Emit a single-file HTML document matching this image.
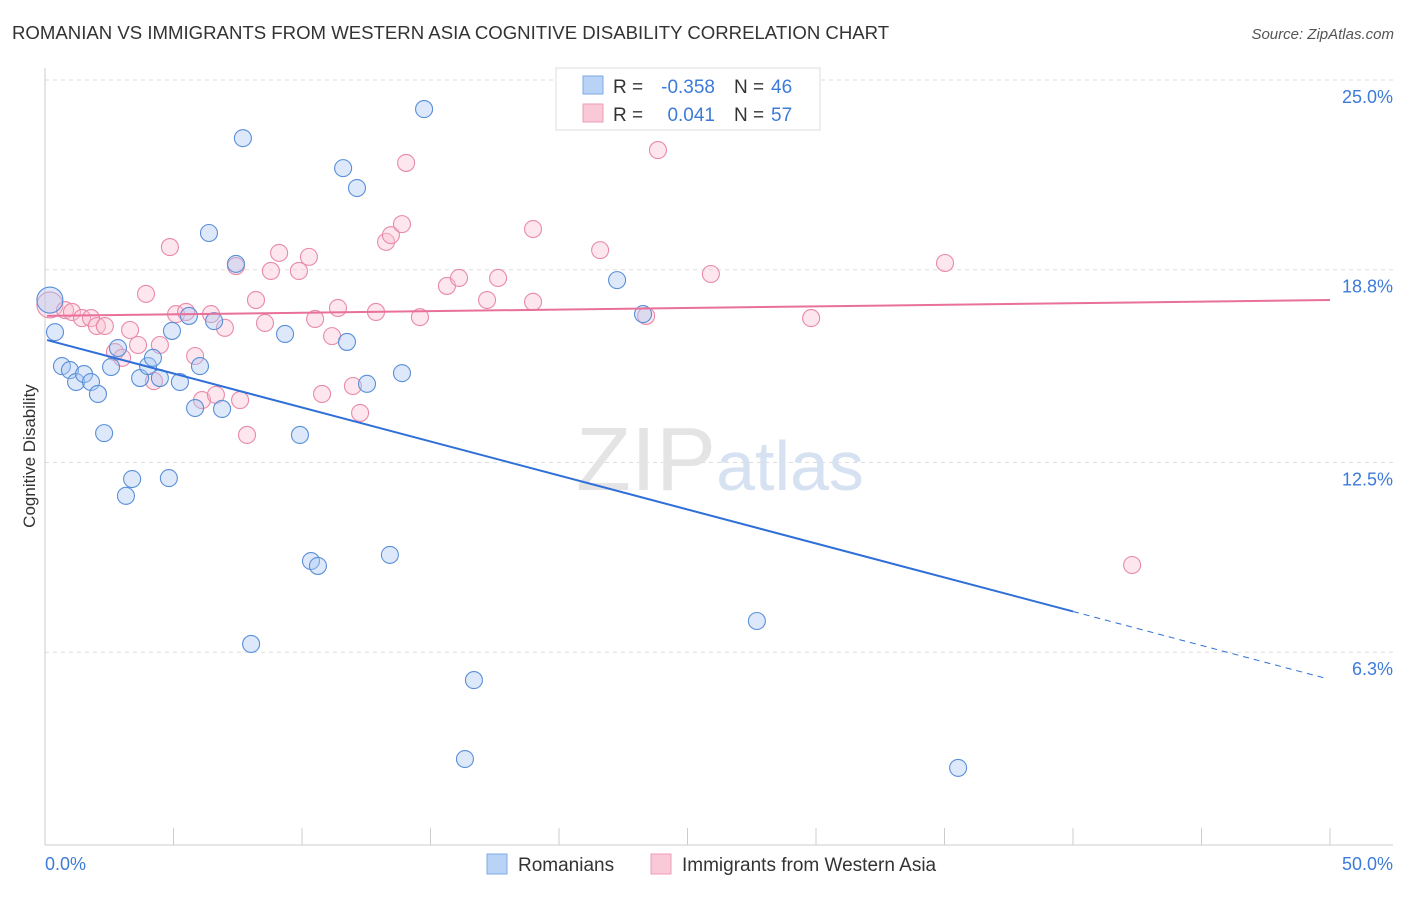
<!DOCTYPE html>
<html><head><meta charset="utf-8"><style>
body{margin:0;background:#fff;font-family:"Liberation Sans",sans-serif;}
svg text{font-family:"Liberation Sans",sans-serif;}
</style></head><body>
<svg width="1406" height="892">
<text x="12" y="39" font-size="18.6" fill="#333">ROMANIAN VS IMMIGRANTS FROM WESTERN ASIA COGNITIVE DISABILITY CORRELATION CHART</text>
<text x="1394" y="39" font-size="15" fill="#555" font-style="italic" text-anchor="end">Source: ZipAtlas.com</text>
<g id="grid"></g>
<text x="720" y="490" font-size="90" fill="#e4e4e4" text-anchor="middle" font-family="Liberation Serif">ZIP<tspan fill="#d6e2f2" font-family="Liberation Sans" font-size="70">atlas</tspan></text>
<g id="marks"></g>
<text x="35" y="456" font-size="17" fill="#333" text-anchor="middle" transform="rotate(-90 35 456)">Cognitive Disability</text>
<text x="45" y="870" font-size="18" fill="#3d7bd9">0.0%</text>
<text x="1393" y="870" font-size="18" fill="#3d7bd9" text-anchor="end">50.0%</text>
<g>
<rect x="556" y="68" width="264" height="62" fill="#fff" stroke="#ddd"/>
<rect x="583" y="76" width="20" height="18" fill="#b8d3f5" stroke="#7eaae6"/>
<rect x="583" y="104" width="20" height="18" fill="#f9c9d7" stroke="#ee9cb5"/>
<text x="613" y="93" font-size="19" fill="#333">R =</text>
<text x="715" y="93" font-size="19" fill="#3d7bd9" text-anchor="end">-0.358</text>
<text x="734" y="93" font-size="19" fill="#333">N =</text>
<text x="771" y="93" font-size="19" fill="#3d7bd9">46</text>
<text x="613" y="121" font-size="19" fill="#333">R =</text>
<text x="715" y="121" font-size="19" fill="#3d7bd9" text-anchor="end">0.041</text>
<text x="734" y="121" font-size="19" fill="#333">N =</text>
<text x="771" y="121" font-size="19" fill="#3d7bd9">57</text>
</g>
<g>
<rect x="487" y="854" width="20" height="20" fill="#b8d3f5" stroke="#7eaae6"/>
<text x="518" y="871" font-size="19" fill="#333">Romanians</text>
<rect x="651" y="854" width="20" height="20" fill="#f9c9d7" stroke="#ee9cb5"/>
<text x="682" y="871" font-size="19" fill="#333">Immigrants from Western Asia</text>
</g>
</svg>
<script>
const yTicks=[25.0,18.8,12.5,6.3];
const yTickLabels=["25.0%","18.8%","12.5%","6.3%"];
const xTicks=[0,5,10,15,20,25,30,35,40,45,50];
const romX=[0.19,0.39,0.66,0.97,1.21,1.52,1.79,2.06,2.30,2.57,2.84,3.15,3.39,3.70,4.01,4.20,4.47,4.82,4.94,5.25,5.60,5.84,6.03,6.38,6.58,6.89,7.43,7.70,8.02,9.34,9.92,10.35,10.62,11.60,11.75,12.14,12.53,13.42,13.89,14.75,16.34,16.69,22.26,23.27,27.70,35.53];
const romY=[17.81,16.76,15.65,15.52,15.13,15.39,15.13,14.74,13.46,15.62,16.24,11.41,11.96,15.26,15.65,15.92,15.26,11.99,16.80,15.13,17.29,14.28,15.65,20.0,17.12,14.25,18.99,23.10,6.57,16.70,13.40,9.28,9.12,22.12,16.44,21.47,15.07,9.48,15.42,24.05,2.81,5.39,18.46,17.35,7.32,2.52];
const immX=[0.19,0.78,1.05,1.44,1.79,2.02,2.33,2.72,3.00,3.31,3.62,3.93,4.24,4.47,4.86,5.10,5.49,5.84,6.11,6.46,6.65,7.00,7.43,7.59,7.86,8.21,8.56,8.79,9.11,9.88,10.27,10.51,10.78,11.17,11.40,11.98,12.26,12.88,13.27,13.46,13.89,14.05,14.59,15.64,16.11,17.20,17.63,18.99,18.99,21.60,23.39,23.85,25.91,29.81,35.02,42.30];
const immY=[17.65,17.48,17.42,17.22,17.22,16.96,16.96,16.11,15.92,16.83,16.34,18.01,15.16,16.34,19.54,17.35,17.42,15.98,14.54,17.35,14.71,16.90,18.92,14.54,13.40,17.81,17.06,18.76,19.35,18.76,19.22,17.19,14.74,16.63,17.55,15.0,14.12,17.42,19.71,19.93,20.29,22.29,17.25,18.27,18.53,17.81,18.53,20.13,17.75,19.44,17.29,22.71,18.66,17.22,19.02,9.15];
const romTrend=[16.52,-0.2222];
const immTrend=[17.29,0.0104];
const NS="http://www.w3.org/2000/svg";
const sx=v=>45+v*25.7, sy=v=>80+(25-v)*30.6;
function mk(t,a,p){const e=document.createElementNS(NS,t);for(const k in a)e.setAttribute(k,a[k]);p.appendChild(e);return e;}
const grid=document.getElementById('grid'), marks=document.getElementById('marks');
yTicks.forEach((v,i)=>{
 const l=mk('line',{x1:45,x2:1393,y1:sy(v),y2:sy(v),stroke:'#ddd','stroke-dasharray':'4 4'},grid);
 
 
 const t=mk('text',{x:1393,y:sy(v)+23,'font-size':18,fill:'#3d7bd9','text-anchor':'end'},grid);
 t.textContent=yTickLabels[i];
 
 
});
const ax=mk('line',{x1:45,x2:1393,y1:845,y2:845,stroke:'#ccc'},grid);


const ay=mk('line',{x1:45,x2:45,y1:68,y2:845,stroke:'#ccc'},grid);


xTicks.forEach(v=>{
 const t=mk('line',{x1:sx(v),x2:sx(v),y1:828,y2:845,stroke:'#ccc'},grid);
 
 
});
function pts(X,Y,fill,stroke,name){
 X.forEach((x,i)=>{
  const r=i===0?13:8.5;
  const c=mk('circle',{cx:sx(x),cy:sy(Y[i]),r:r,fill:fill,'fill-opacity':0.4,stroke:stroke,'stroke-width':1.1},marks);
  
  
 });
}
pts(immX,immY,'#f9c0d2','#e88aa8','immigrant-point');
pts(romX,romY,'#a9c9f2','#5a8fd8','romanian-point');
const f=(t,x)=>t[0]+t[1]*x;
const b1=mk('line',{x1:sx(0.08),y1:sy(f(romTrend,0.08)),x2:sx(40),y2:sy(f(romTrend,40)),stroke:'#2f6fd8','stroke-width':2},marks);


const b2=mk('line',{x1:sx(40),y1:sy(f(romTrend,40)),x2:sx(49.8),y2:sy(f(romTrend,49.8)),stroke:'#2f6fd8','stroke-width':1,'stroke-dasharray':'6 5'},marks);


const p1=mk('line',{x1:sx(0.08),y1:sy(f(immTrend,0.08)),x2:sx(50),y2:sy(f(immTrend,50)),stroke:'#e8709a','stroke-width':2},marks);


</script>
</body></html>
